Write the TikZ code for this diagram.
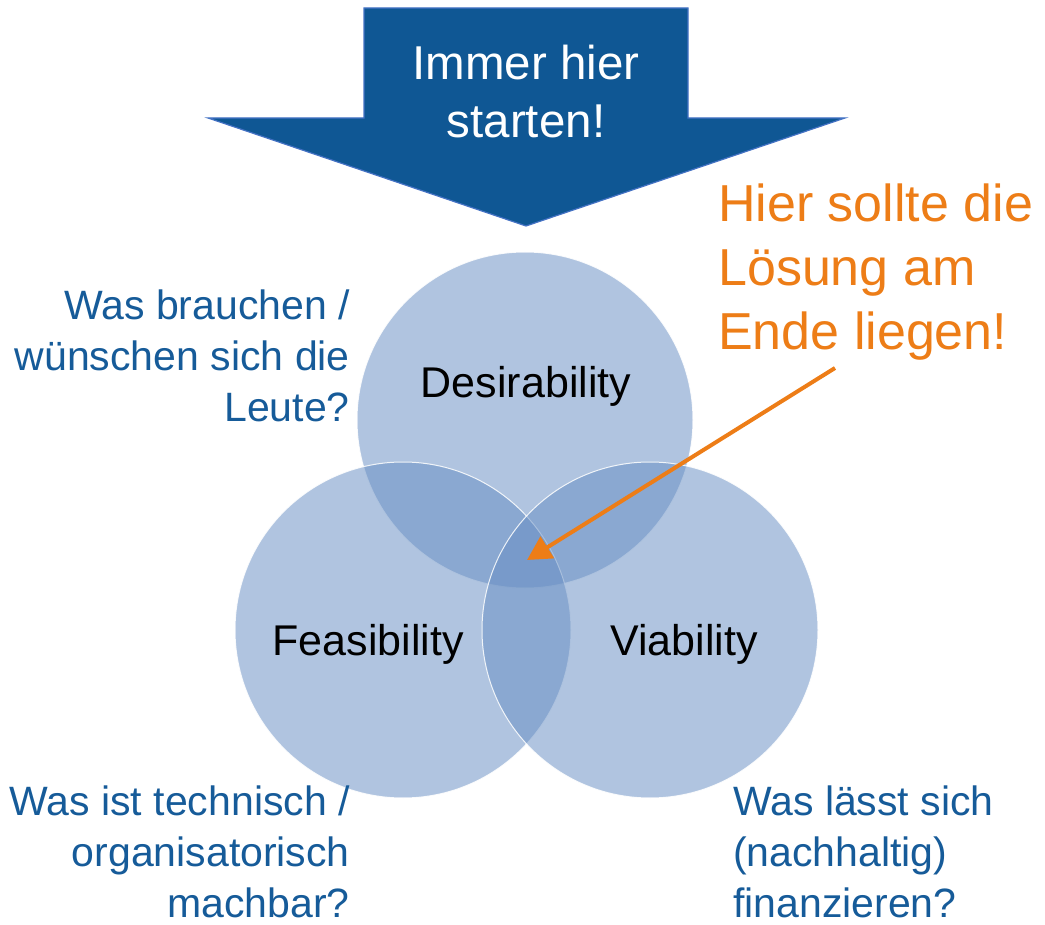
\documentclass[tikz,border=0pt]{standalone}
\usepackage{fontspec}
\setmainfont{Liberation Sans}
\usetikzlibrary{arrows.meta, positioning}
\definecolor{startblue}{RGB}{15,87,148}
\definecolor{startedge}{RGB}{68,114,196}
\definecolor{vennblue}{RGB}{103,142,195}
\definecolor{askblue}{RGB}{22,91,153}
\definecolor{hintorange}{RGB}{237,125,23}
\tikzstyle{startarrow} = [fill=startblue, draw=startedge, line width=1.2pt, line join=miter]
\tikzstyle{starttext} = [font=\fontsize{47.5}{58}\selectfont, text=white, align=center, inner sep=0pt]
\tikzstyle{venn} = [circle, minimum size=336pt, inner sep=0pt, fill=vennblue, fill opacity=0.52, draw=white, draw opacity=0.85, line width=1pt]
\tikzstyle{vennlabel} = [font=\fontsize{43}{50}\selectfont, text=black, inner sep=0pt]
\tikzstyle{question} = [font=\fontsize{41}{51}\selectfont, text=askblue, inner sep=0pt]
\tikzstyle{hint} = [font=\fontsize{52}{64}\selectfont, text=hintorange, align=left, inner sep=0pt]
\tikzstyle{arrow} = [line width=4pt, draw=hintorange, -{Triangle[length=24pt,width=25pt]}]

\begin{document}
\begin{tikzpicture}[x=1pt, y=-1pt]
    \useasboundingbox (0,0) rectangle (1045,925);

    % big arrow on top
    \draw [startarrow] (364,8) -- (688,8) -- (688,118) -- (845,118) -- (526,226) -- (208,118) -- (364,118) -- cycle;
    \node (start) [starttext, anchor=north] at (526,45) {Immer hier\\starten!};

    % venn circles
    \node (desirability) [venn] at (525,420) {};
    \node (feasibility) [venn] at (403,630) {};
    \node (viability) [venn] at (650,630) {};
    \node (desirability_text) [vennlabel, anchor=base] at (526,398) {Desirability};
    \node (feasibility_text) [vennlabel, anchor=base] at (368,655) {Feasibility};
    \node (viability_text) [vennlabel, anchor=base] at (684,655) {Viability};

    % questions
    \node (ask_people) [question, align=right, anchor=north east] at (350,290) {Was brauchen /\\w\"unschen sich die\\Leute?};
    \node (ask_tech) [question, align=right, anchor=north east] at (350,786) {Was ist technisch /\\organisatorisch\\machbar?};
    \node (ask_money) [question, align=left, anchor=north west] at (733,786) {Was l\"asst sich\\(nachhaltig)\\finanzieren?};

    % hint
    \node (hint) [hint, anchor=north west] at (718,184) {Hier sollte die\\L\"osung am\\Ende liegen!};
    \coordinate (hint_tail) at (835,368);
    \coordinate (sweet_spot) at (527,560);
    \draw [arrow] (hint_tail) -- (sweet_spot);
\end{tikzpicture}
\end{document}
